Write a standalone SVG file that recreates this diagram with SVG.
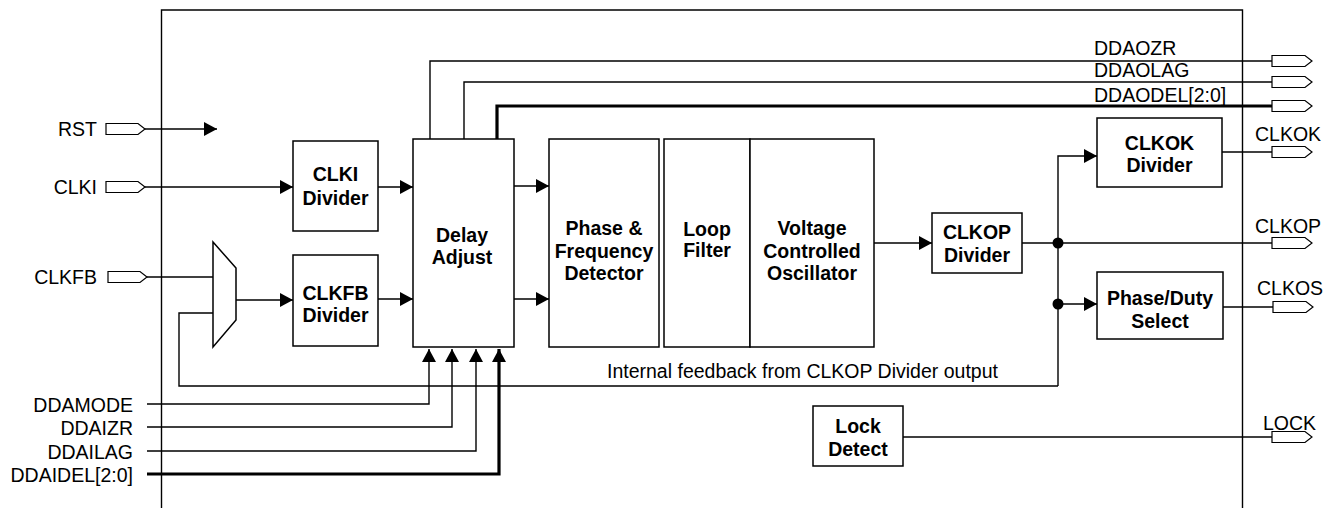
<svg xmlns="http://www.w3.org/2000/svg" width="1331" height="508" viewBox="0 0 1331 508">
<style>
.b{fill:#fff;stroke:#000;stroke-width:1.5}
.w{fill:none;stroke:#000;stroke-width:1.4}
.t{fill:none;stroke:#000;stroke-width:3.2}
.pin{fill:#fff;stroke:#000;stroke-width:1.2}
.lb{font-family:"Liberation Sans",Arial,sans-serif;font-size:19.5px;font-weight:bold;text-anchor:middle;fill:#000}
.l{font-family:"Liberation Sans",Arial,sans-serif;font-size:19.5px;fill:#000}
.r{text-anchor:end}
</style>
<defs>
<marker id="a" markerUnits="userSpaceOnUse" markerWidth="14" markerHeight="14" refX="13" refY="7" orient="auto">
<path d="M0,0 L13,7 L0,14 Z" fill="#000"/>
</marker>
</defs>
<rect width="1331" height="508" fill="#fff"/>
<g id="frame"><path class="w" d="M161.5,508 V10 H1242.5 V508"/></g>

<g id="connectors">
<path class="w" d="M145,129 H217" marker-end="url(#a)"/>
<path class="w" d="M145,187 H293" marker-end="url(#a)"/>
<path class="w" d="M378,187 H413" marker-end="url(#a)"/>
<path class="w" d="M147,277 H213"/>
<path class="w" d="M236,300 H293" marker-end="url(#a)"/>
<path class="w" d="M378,299 H413" marker-end="url(#a)"/>
<path class="w" d="M514,186 H549" marker-end="url(#a)"/>
<path class="w" d="M514,299 H549" marker-end="url(#a)"/>
<path class="w" d="M874,243 H932" marker-end="url(#a)"/>
<path class="w" d="M1022,243 H1272"/>
<path class="w" d="M1058,386 V156 H1097" marker-end="url(#a)"/>
<path class="w" d="M1058,304 H1097" marker-end="url(#a)"/>
<path class="w" d="M213,313 H179 V386 H1058"/>
<path class="w" d="M1222,152 H1272"/>
<path class="w" d="M1223,307 H1273"/>
<path class="w" d="M903,437 H1272"/>
<path class="w" d="M430,139 V61 H1272"/>
<path class="w" d="M464,139 V82 H1272"/>
<path class="t" d="M497,139 V106 H1272"/>
<path class="w" d="M147,404 H429 V349" marker-end="url(#a)"/>
<path class="w" d="M147,427 H452 V349" marker-end="url(#a)"/>
<path class="w" d="M147,451 H476 V349" marker-end="url(#a)"/>
<path class="t" d="M147,474 H499 V349" marker-end="url(#a)"/>
<circle cx="1058" cy="243" r="5.5" fill="#000"/>
<circle cx="1058" cy="304" r="5.5" fill="#000"/>
</g>

<g id="pins">
<path class="pin" d="M106,123.5 H138 L145,129 L138,134.5 H106 Z"/>
<path class="pin" d="M106,181.5 H138 L145,187 L138,192.5 H106 Z"/>
<path class="pin" d="M108,271.5 H140 L147,277 L140,282.5 H108 Z"/>
<path class="pin" d="M1272,55.5 H1305 L1312,61 L1305,66.5 H1272 Z"/>
<path class="pin" d="M1272,76.5 H1305 L1312,82 L1305,87.5 H1272 Z"/>
<path class="pin" d="M1272,100.5 H1305 L1312,106 L1305,111.5 H1272 Z"/>
<path class="pin" d="M1272,146.5 H1305 L1312,152 L1305,157.5 H1272 Z"/>
<path class="pin" d="M1272,237.5 H1305 L1312,243 L1305,248.5 H1272 Z"/>
<path class="pin" d="M1273,301.5 H1306 L1313,307 L1306,312.5 H1273 Z"/>
<path class="pin" d="M1272,431.5 H1305 L1312,437 L1305,442.5 H1272 Z"/>
</g>

<g id="labels">
<text class="l r" x="97" y="136">RST</text>
<text class="l r" x="97" y="194">CLKI</text>
<text class="l r" x="97" y="284">CLKFB</text>
<text class="l r" x="133" y="412">DDAMODE</text>
<text class="l r" x="133" y="435">DDAIZR</text>
<text class="l r" x="133" y="459">DDAILAG</text>
<text class="l r" x="133" y="482">DDAIDEL[2:0]</text>
<text class="l" x="1094" y="55">DDAOZR</text>
<text class="l" x="1094" y="77">DDAOLAG</text>
<text class="l" x="1094" y="102">DDAODEL[2:0]</text>
<text class="l" x="1255" y="141">CLKOK</text>
<text class="l" x="1255" y="233">CLKOP</text>
<text class="l" x="1257" y="295">CLKOS</text>
<text class="l" x="1263" y="430">LOCK</text>
<text class="l" x="607" y="378">Internal feedback from CLKOP Divider output</text>
</g>

<g id="mux"><path class="b" d="M213,242 L236,268 V320 L213,347 Z"/></g>
<g id="clki-div"><rect class="b" x="293" y="141" width="85" height="90"/><text class="lb" x="335.5" y="181">CLKI</text><text class="lb" x="335.5" y="205">Divider</text></g>
<g id="clkfb-div"><rect class="b" x="293" y="255" width="85" height="91"/><text class="lb" x="335.5" y="300">CLKFB</text><text class="lb" x="335.5" y="322">Divider</text></g>
<g id="delay-adjust"><rect class="b" x="413" y="139" width="101" height="208"/><text class="lb" x="462" y="242">Delay</text><text class="lb" x="462" y="264">Adjust</text></g>
<g id="pfd"><rect class="b" x="549" y="139" width="110" height="208"/><text class="lb" x="604" y="235">Phase &amp;</text><text class="lb" x="604" y="258">Frequency</text><text class="lb" x="604" y="280">Detector</text></g>
<g id="loop-filter"><rect class="b" x="664" y="139" width="86" height="208"/><text class="lb" x="707" y="236">Loop</text><text class="lb" x="707" y="257">Filter</text></g>
<g id="vco"><rect class="b" x="750" y="139" width="124" height="208"/><text class="lb" x="812" y="235">Voltage</text><text class="lb" x="812" y="258">Controlled</text><text class="lb" x="812" y="280">Oscillator</text></g>
<g id="clkop-div"><rect class="b" x="932" y="213" width="90" height="60"/><text class="lb" x="977" y="239">CLKOP</text><text class="lb" x="977" y="262">Divider</text></g>
<g id="clkok-div"><rect class="b" x="1097" y="118" width="125" height="69"/><text class="lb" x="1159.5" y="150">CLKOK</text><text class="lb" x="1159.5" y="172">Divider</text></g>
<g id="phase-duty"><rect class="b" x="1097" y="272" width="126" height="67"/><text class="lb" x="1160" y="305">Phase/Duty</text><text class="lb" x="1160" y="328">Select</text></g>
<g id="lock-detect"><rect class="b" x="813" y="406" width="90" height="60"/><text class="lb" x="858" y="433">Lock</text><text class="lb" x="858" y="456">Detect</text></g>
</svg>
